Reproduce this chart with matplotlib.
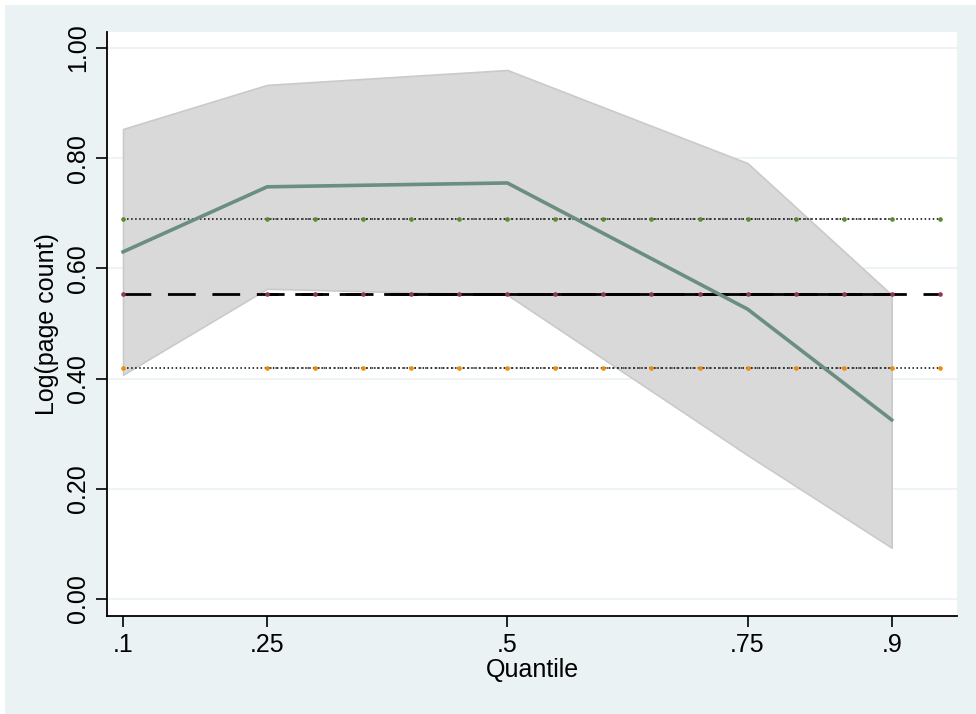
"""Quantile regression coefficient plot (grqreg style) with OLS reference lines."""

import matplotlib.pyplot as plt
import numpy as np
from matplotlib.patches import Rectangle

# ----------------------------- Data -----------------------------
QUANTILES = [0.10, 0.25, 0.50, 0.75, 0.90]
QR_COEF = [0.630, 0.748, 0.755, 0.526, 0.325]
QR_UPPER = [0.853, 0.933, 0.960, 0.791, 0.552]
QR_LOWER = [0.407, 0.563, 0.552, 0.261, 0.093]

OLS_COEF = 0.554
OLS_UPPER = 0.690
OLS_LOWER = 0.419

# grid of points where the OLS lines are marked
OLS_GRID = [0.10, 0.25, 0.30, 0.35, 0.40, 0.45, 0.50, 0.55, 0.60, 0.65,
            0.70, 0.75, 0.80, 0.85, 0.90, 0.95]

Y_TICKS = [0.0, 0.2, 0.4, 0.6, 0.8, 1.0]
X_TICKS = [0.10, 0.25, 0.50, 0.75, 0.90]
X_TICK_LABELS = [".1", ".25", ".5", ".75", ".9"]

BG = "#EAF2F3"


def ols_line(ax, value, style, marker_color, lw):
    grid = np.array(OLS_GRID)
    vals = np.full(grid.size, value)
    ax.plot(grid, vals, color="black", linestyle=style, linewidth=lw, zorder=3)
    # overlapping segment drawn again (appears denser in the middle)
    inner = (grid >= 0.25) & (grid <= 0.90)
    if style == "dotted":
        ax.plot(grid[inner], vals[inner], color="#333333", linestyle=(1.5, (1, 2.5)),
                linewidth=lw, zorder=3)
    else:
        ax.plot(grid[inner], vals[inner], color="black", linestyle=(6, (10, 6)),
                linewidth=lw, zorder=3)
        mid = (grid >= 0.40) & (grid <= 0.90)
        ax.plot(grid[mid], vals[mid], color="black", linestyle="-", linewidth=lw, zorder=3)
    ax.plot(grid, vals, linestyle="none", marker="o", markersize=2.3,
            color=marker_color, zorder=4)


def main():
    plt.rcParams["font.family"] = ["Liberation Sans", "DejaVu Sans"]

    fig = plt.figure(figsize=(9.76, 7.14), dpi=100, facecolor=BG)
    # thin white margin at the top and left edges
    fig.patches.append(Rectangle((0, 0), 5 / 976, 1, transform=fig.transFigure,
                                 facecolor="white", edgecolor="none", zorder=0))
    fig.patches.append(Rectangle((0, 1 - 5 / 714), 1, 5 / 714, transform=fig.transFigure,
                                 facecolor="white", edgecolor="none", zorder=0))

    ax = fig.add_axes([107 / 976, 1 - 616 / 714, (957 - 107) / 976, (616 - 32) / 714])
    ax.set_facecolor("white")

    ax.fill_between(QUANTILES, QR_LOWER, QR_UPPER, facecolor="#D9D9D9",
                    edgecolor="#CACACA", linewidth=1.2, zorder=1)

    for y in Y_TICKS:
        ax.axhline(y, color=BG, linewidth=1.2, zorder=0.5)

    ols_line(ax, OLS_UPPER, "dotted", "#5E8A2E", 1.1)
    ols_line(ax, OLS_LOWER, "dotted", "#F08A10", 1.1)
    ols_line(ax, OLS_COEF, (0, (10, 6)), "#8E3A4A", 2.0)

    ax.plot(QUANTILES, QR_COEF, color="#6A8E80", linewidth=2.6, zorder=5)

    ax.set_xlim(0.0833, 0.968)
    ax.set_ylim(-0.031, 1.029)

    ax.set_xticks(X_TICKS)
    ax.set_xticklabels(X_TICK_LABELS)
    ax.set_yticks(Y_TICKS)
    ax.set_yticklabels([f"{v:.2f}" for v in Y_TICKS], rotation=90, va="center")
    ax.tick_params(axis="both", labelsize=18, length=8, width=1.2, color="black",
                   pad=4)

    for side in ("top", "right"):
        ax.spines[side].set_visible(False)
    for side in ("left", "bottom"):
        ax.spines[side].set_linewidth(1.3)

    ax.set_xlabel("Quantile", fontsize=18, labelpad=1)
    ax.set_ylabel("Log(page count)", fontsize=18, labelpad=5)

    fig.savefig("out.png", dpi=100, facecolor=BG)
    plt.close("all")


if __name__ == "__main__":
    main()
